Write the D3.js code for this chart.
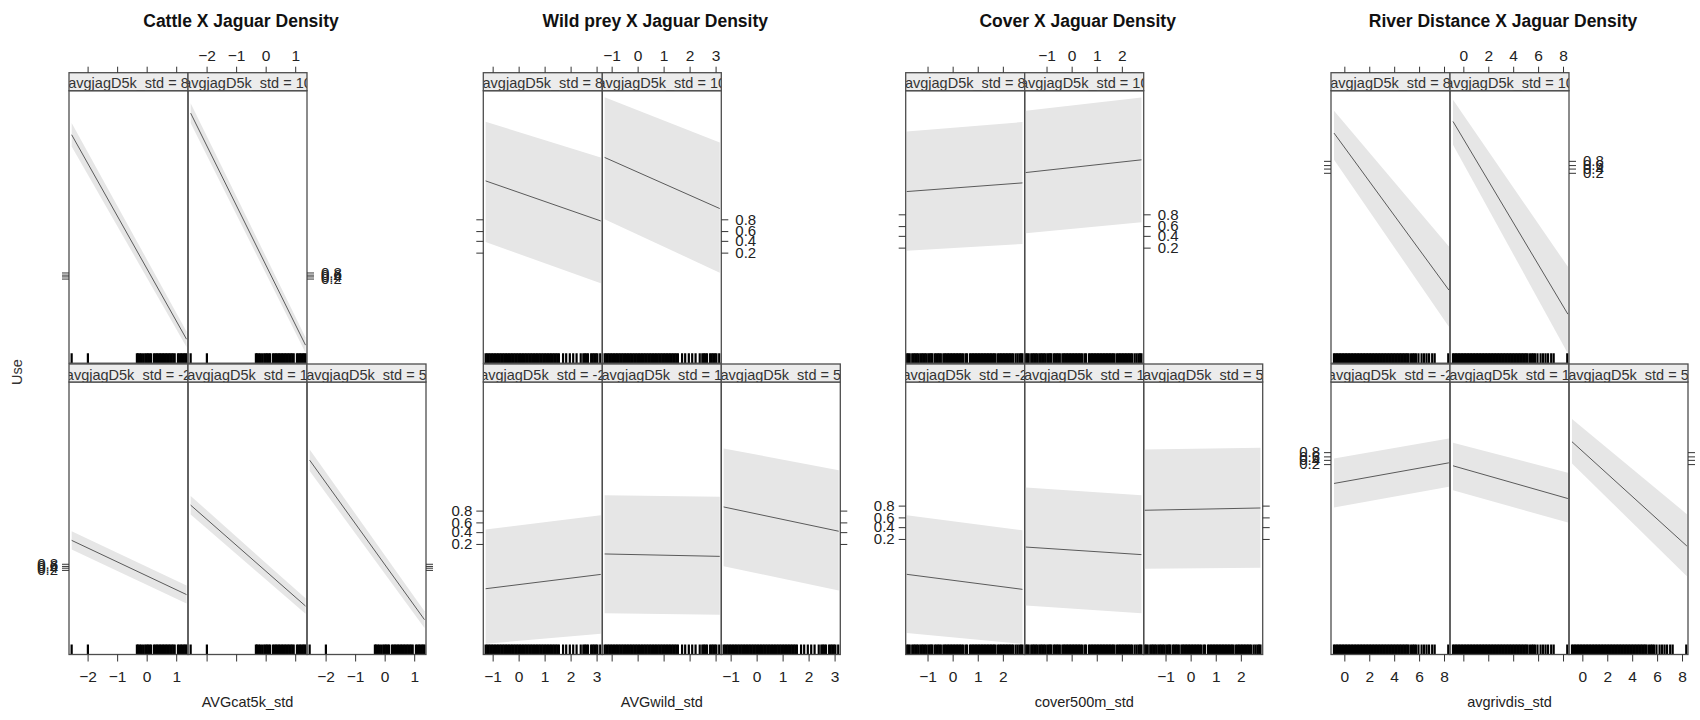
<!DOCTYPE html>
<html>
<head>
<meta charset="utf-8">
<script src="https://cdn.jsdelivr.net/npm/d3@7"></script>
<style>
  html, body { margin: 0; padding: 0; background: #fff; }
  svg { display: block; }
  text { font-family: 'Liberation Sans', Arial, Helvetica, sans-serif; }
</style>
</head>
<body>
<svg id="chart" width="1700" height="720"></svg>
<script>
// ---------------- data ----------------
// conditioning levels of standardised jaguar density (panel order: bottom row, then top row)
const jagLevels = [-2, 1, 5, 8, 10];

const plotTitles = ["Cattle X Jaguar Density", "Wild prey X Jaguar Density",
                    "Cover X Jaguar Density", "River Distance X Jaguar Density"];
const xVarNames  = ["AVGcat5k_std", "AVGwild_std", "cover500m_std", "avgrivdis_std"];
const xTickValues = [[-2, -1, 0, 1], [-1, 0, 1, 2, 3], [-1, 0, 1, 2], [0, 2, 4, 6, 8]];
// axis limits of each predictor and the range over which the effect was evaluated
const xLimits  = [[-2.63, 1.40], [-1.36, 3.22], [-1.87, 2.87], [-1.07, 8.48]];
const xExtents = [[-2.54, 1.35], [-1.27, 3.16], [-1.83, 2.78], [-0.83, 8.39]];
// limits of the linear predictor (logit) axis
const etaLimits = [[-39.8, 83.9], [-10.58, 12.08], [-11.0, 11.67], [-45.58, 17.67]];
const probTicks = [0.2, 0.4, 0.6, 0.8];

// fitted linear predictor at the low / high end of each predictor, one pair per jaguar level
const cattleFit   = [[12.0, -12.6], [28.0, -17.8], [48.4, -24.0], [63.9, -28.9], [73.7, -31.6]];
const cattleUpper = [[16.1, -8.5],  [32.2, -14.3], [53.3, -20.2], [69.2, -25.4], [78.2, -28.1]];
const cattleLower = [[7.9, -16.7],  [23.8, -21.3], [43.5, -27.8], [58.6, -32.4], [69.2, -35.1]];

const wildFit   = [[-5.11, -3.92], [-2.22, -2.42], [1.69, -0.33], [4.58, 1.25], [6.53, 2.28]];
const wildUpper = [[-0.19, 1.00],  [2.67, 2.53],   [6.56, 4.75],  [9.50, 6.53], [11.53, 7.78]];
const wildLower = [[-9.69, -8.86], [-7.14, -7.28], [-3.25, -5.25], [-0.50, -3.94], [1.39, -3.05]];

const coverFit   = [[-4.33, -5.58], [-2.06, -2.69], [1.00, 1.19], [3.28, 4.00], [4.86, 5.92]];
const coverUpper = [[0.58, -0.67],  [2.89, 2.25],   [6.06, 6.19], [8.28, 9.06], [10.00, 11.10]];
const coverLower = [[-9.22, -10.11], [-6.92, -7.56], [-3.86, -3.78], [-1.64, -1.08], [-0.19, 0.72]];

const riverFit   = [[-5.88, -1.09], [-1.78, -9.38], [3.80, -20.4], [7.84, -28.6], [10.53, -34.2]];
const riverUpper = [[-0.08, 4.58],  [3.57, -3.41],  [9.07, -13.0], [13.0, -18.5], [15.58, -23.2]];
const riverLower = [[-11.47, -6.67], [-7.44, -14.96], [-1.24, -27.4], [1.63, -37.1], [5.12, -43.3]];

// observed predictor values (rug)
const cattleRug = [-2.54, -1.99, -0.33, -0.29, -0.24, -0.19, -0.12, -0.05, 0.00, 0.05, 0.10, 0.15,
  0.25, 0.30, 0.35, 0.40, 0.45, 0.50, 0.55, 0.60, 0.65, 0.70, 0.75, 0.80, 0.85, 0.90, 0.95,
  1.06, 1.11, 1.16, 1.21, 1.26, 1.31, 1.35];
const wildRug = [-1.27, -1.21, -1.15, -1.09, -1.03, -0.97, -0.91, -0.85, -0.79, -0.73, -0.67, -0.61,
  -0.55, -0.49, -0.43, -0.37, -0.31, -0.25, -0.19, -0.13, -0.07, -0.01, 0.05, 0.11, 0.17, 0.23,
  0.29, 0.35, 0.41, 0.47, 0.53, 0.59, 0.65, 0.71, 0.77, 0.83, 0.89, 0.95, 1.01, 1.07, 1.13, 1.19,
  1.25, 1.31, 1.37, 1.43, 1.49, 1.55, 1.71, 1.83, 1.97, 2.10, 2.23, 2.39, 2.49, 2.55, 2.61, 2.67,
  2.79, 2.85, 2.91, 2.97, 3.03, 3.14];
const coverRug = [-1.83, -1.77, -1.71, -1.61, -1.55, -1.49, -1.43, -1.37, -1.29, -1.23, -1.17, -1.11,
  -1.05, -0.97, -0.91, -0.85, -0.81, -0.71, -0.65, -0.59, -0.53, -0.47, -0.37, -0.31, -0.25, -0.19,
  -0.13, -0.07, -0.01, 0.05, 0.11, 0.17, 0.23, 0.29, 0.35, 0.41, 0.51, 0.57, 0.69, 0.75, 0.81, 0.87,
  0.93, 0.99, 1.05, 1.11, 1.17, 1.23, 1.29, 1.35, 1.41, 1.47, 1.53, 1.59, 1.65, 1.71, 1.81, 1.87,
  1.93, 1.99, 2.05, 2.11, 2.17, 2.23, 2.29, 2.35, 2.41, 2.51, 2.59, 2.67, 2.73, 2.78];
const riverRug = [-0.83, -0.71, -0.59, -0.47, -0.35, -0.23, -0.11, 0.01, 0.13, 0.25, 0.37, 0.49,
  0.61, 0.73, 0.85, 0.97, 1.09, 1.21, 1.33, 1.45, 1.57, 1.69, 1.81, 1.93, 2.05, 2.17, 2.29, 2.41,
  2.53, 2.65, 2.77, 2.89, 3.01, 3.13, 3.25, 3.37, 3.49, 3.61, 3.73, 3.85, 3.97, 4.09, 4.21, 4.33,
  4.45, 4.57, 4.69, 4.81, 4.93, 5.05, 5.16, 5.35, 5.50, 5.62, 5.75, 5.95, 6.20, 6.40, 6.60, 6.80,
  7.05, 7.25, 8.34];

const fitSets   = [cattleFit, wildFit, coverFit, riverFit];
const upperSets = [cattleUpper, wildUpper, coverUpper, riverUpper];
const lowerSets = [cattleLower, wildLower, coverLower, riverLower];
const rugSets   = [cattleRug, wildRug, coverRug, riverRug];

// ---------------- layout ----------------
const svg = d3.select("#chart");
const FONT = "'Liberation Sans', Arial, Helvetica, sans-serif";
const W = 119, stripH = 18, panelH = 272.5;
const rowTop = [72.7, 364];            // row 0 = top row, row 1 = bottom row
const plotLeft = [69, 483.3, 905.7, 1331];
const logit = p => Math.log(p / (1 - p));
const invLogit = v => 1 / (1 + Math.exp(-v));
const probFmt = v => d3.format(".1f")(invLogit(v));
const intFmt = d3.format("d");

function cellOf(i) { return i < 3 ? { row: 1, col: i } : { row: 0, col: i - 3 }; }

function styleAxis(g, fs) {
  g.select(".domain").remove();
  g.selectAll(".tick line").attr("stroke", "#333").attr("stroke-width", 1);
  g.selectAll(".tick text").attr("fill", "#222").attr("font-size", fs).attr("font-family", FONT);
}

let clipId = 0;

plotTitles.forEach((title, p) => {
  const left = plotLeft[p];
  const g = svg.append("g");

  const xScale = col => d3.scaleLinear().domain(xLimits[p]).range([left + col * W, left + (col + 1) * W]);
  const yScale = row => d3.scaleLinear().domain(etaLimits[p])
    .range([rowTop[row] + stripH + panelH, rowTop[row] + stripH]);

  // title
  g.append("text")
    .attr("x", left + 1.5 * W - 6.5).attr("y", 26.7)
    .attr("text-anchor", "middle").attr("font-weight", "bold").attr("font-size", 17.5)
    .attr("fill", "#111").text(title);

  // x-axis title
  g.append("text")
    .attr("x", left + 1.5 * W).attr("y", 707)
    .attr("text-anchor", "middle").attr("font-size", 14.5).attr("fill", "#222")
    .text(xVarNames[p]);

  jagLevels.forEach((lev, i) => {
    const { row, col } = cellOf(i);
    const x = xScale(col), y = yScale(row);
    const pTop = rowTop[row] + stripH, pBot = pTop + panelH;
    const x0 = left + col * W;

    const pg = g.append("g");
    const cid = "clip" + (clipId++);
    pg.append("clipPath").attr("id", cid)
      .append("rect").attr("x", x0).attr("y", pTop).attr("width", W).attr("height", panelH);
    const body = pg.append("g").attr("clip-path", `url(#${cid})`);

    const pts = xExtents[p].map((xv, k) => ({
      x: xv, fit: fitSets[p][i][k], hi: upperSets[p][i][k], lo: lowerSets[p][i][k]
    }));

    // confidence band
    body.append("path").datum(pts)
      .attr("fill", "#e6e6e6")
      .attr("d", d3.area().x(d => x(d.x)).y0(d => y(d.lo)).y1(d => y(d.hi)));

    // fitted effect
    body.append("path").datum(pts)
      .attr("fill", "none").attr("stroke", "#5a5a5a").attr("stroke-width", 1)
      .attr("d", d3.line().x(d => x(d.x)).y(d => y(d.fit)));

    // rug of observed values
    body.selectAll("line.rug").data(rugSets[p]).join("line")
      .attr("class", "rug")
      .attr("x1", d => x(d)).attr("x2", d => x(d))
      .attr("y1", pBot).attr("y2", pBot - 10)
      .attr("stroke", "#000").attr("stroke-width", 2.2);

    // panel frame
    pg.append("rect")
      .attr("x", x0).attr("y", pTop).attr("width", W).attr("height", panelH)
      .attr("fill", "none").attr("stroke", "#4d4d4d").attr("stroke-width", 1.3);

    // strip
    const sid = "sclip" + (clipId++);
    pg.append("clipPath").attr("id", sid)
      .append("rect").attr("x", x0).attr("y", rowTop[row]).attr("width", W).attr("height", stripH);
    pg.append("rect")
      .attr("x", x0).attr("y", rowTop[row]).attr("width", W).attr("height", stripH)
      .attr("fill", "#ececec");
    pg.append("text")
      .attr("clip-path", `url(#${sid})`)
      .attr("x", x0 + W / 2).attr("y", rowTop[row] + stripH - 2.4)
      .attr("text-anchor", "middle").attr("font-size", 14.5).attr("fill", "#333")
      .text(`avgjagD5k_std = ${lev}`);
    pg.append("rect")
      .attr("x", x0).attr("y", rowTop[row]).attr("width", W).attr("height", stripH)
      .attr("fill", "none").attr("stroke", "#4d4d4d").attr("stroke-width", 1.3);
  });

  const yTicks = probTicks.map(logit);

  // top axis (top row): ticks on first column, labels on second
  [0, 1].forEach(col => {
    const ax = d3.axisTop(xScale(col)).tickValues(xTickValues[p]).tickSize(6).tickPadding(6)
      .tickFormat(col === 0 ? "" : intFmt);
    g.append("g").attr("transform", `translate(0,${rowTop[0]})`).call(ax).call(s => styleAxis(s, 15.5));
  });

  // bottom axis (bottom row): labels on outer columns, ticks only in the middle
  [0, 1, 2].forEach(col => {
    const ax = d3.axisBottom(xScale(col)).tickValues(xTickValues[p]).tickSize(7).tickPadding(9)
      .tickFormat(col === 1 ? "" : intFmt);
    g.append("g").attr("transform", `translate(0,${rowTop[1] + stripH + panelH})`)
      .call(ax).call(s => styleAxis(s, 15.5));
  });

  // left axes: top row ticks only, bottom row labelled
  [0, 1].forEach(row => {
    const ax = d3.axisLeft(yScale(row)).tickValues(yTicks).tickSize(7).tickPadding(4);
    ax.tickFormat(row === 0 ? "" : probFmt);
    g.append("g").attr("transform", `translate(${left},0)`).call(ax).call(s => styleAxis(s, 15));
  });

  // right axes: labelled beside the top row, ticks only beside the bottom row
  {
    const ax = d3.axisRight(yScale(0)).tickValues(yTicks).tickSize(7).tickPadding(7).tickFormat(probFmt);
    g.append("g").attr("transform", `translate(${left + 2 * W},0)`).call(ax).call(s => styleAxis(s, 15));
    const ax2 = d3.axisRight(yScale(1)).tickValues(yTicks).tickSize(7).tickFormat("");
    g.append("g").attr("transform", `translate(${left + 3 * W},0)`).call(ax2).call(s => styleAxis(s, 15));
  }
});

// response label
svg.append("text")
  .attr("transform", "translate(17,372) rotate(-90)")
  .attr("text-anchor", "middle").attr("dominant-baseline", "central")
  .attr("font-size", 14.5).attr("fill", "#333").text("Use");
</script>
</body>
</html>
